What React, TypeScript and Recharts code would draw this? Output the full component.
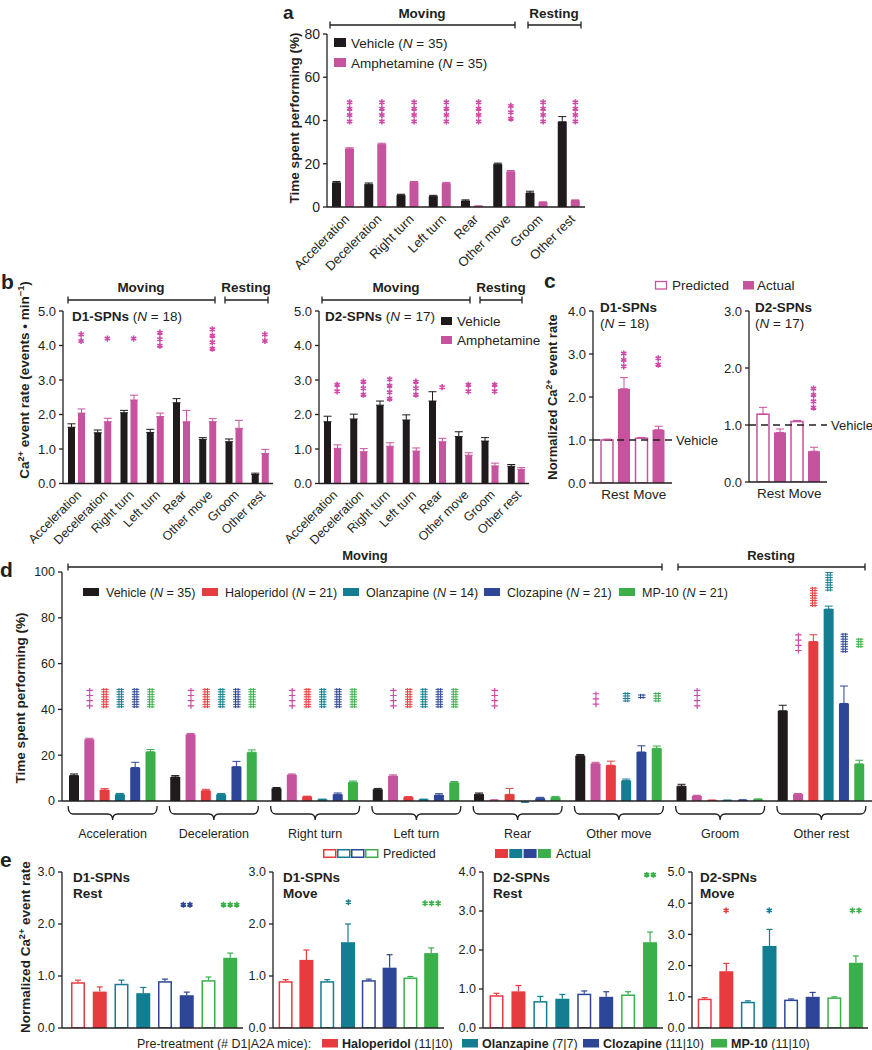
import React from 'react';
import { ComposedChart, Bar, XAxis, YAxis, ErrorBar, Scatter, ReferenceLine } from 'recharts';

const FONT = "'Liberation Sans', Arial, Helvetica, sans-serif";
const INK = '#231f20';
const VEH = '#1f1a1c';
const PINK = '#c6539d';
const PINK_SIG = '#d04aa7';
const RED = '#e63b3f';
const TEAL = '#137d91';
const BLUE = '#2d4698';
const GREEN = '#3aaf4a';

// ---------------- data ----------------
const behaviors = ['Acceleration', 'Deceleration', 'Right turn', 'Left turn', 'Rear', 'Other move', 'Groom', 'Other rest'];

// panel a (time spent performing, %)
const aVehicle = [11.2, 10.5, 5.5, 5.0, 2.8, 19.8, 6.5, 39.4];
const aVehicleErr = [0.6, 0.6, 0.4, 0.4, 0.5, 0.5, 0.8, 2.4];
const aAmph = [26.9, 29.0, 11.4, 10.9, 0.4, 16.3, 2.1, 3.0];
const aAmphErr = [0.5, 0.5, 0.4, 0.5, 0.1, 0.6, 0.3, 0.3];
const aStarCount = [4, 4, 4, 4, 4, 3, 4, 4];
const aStarTop = [50, 50, 50, 50, 50, 48.3, 50, 50];

// panel b, D1-SPNs (events / min)
const bD1Vehicle = [1.63, 1.47, 2.05, 1.48, 2.34, 1.28, 1.21, 0.26];
const bD1VehicleErr = [0.1, 0.08, 0.07, 0.09, 0.12, 0.05, 0.08, 0.04];
const bD1Amph = [2.04, 1.79, 2.42, 1.94, 1.79, 1.79, 1.6, 0.87];
const bD1AmphErr = [0.12, 0.1, 0.14, 0.1, 0.33, 0.09, 0.23, 0.12];
const bD1StarCount = [2, 1, 1, 3, 0, 4, 0, 2];
const bD1StarTop = [4.42, 4.3, 4.3, 4.47, null, 4.57, null, 4.42];

// panel b, D2-SPNs
const bD2Vehicle = [1.79, 1.87, 2.27, 1.84, 2.39, 1.36, 1.23, 0.5];
const bD2VehicleErr = [0.16, 0.14, 0.12, 0.15, 0.27, 0.14, 0.1, 0.05];
const bD2Amph = [1.02, 0.92, 1.08, 0.94, 1.21, 0.82, 0.51, 0.41];
const bD2AmphErr = [0.1, 0.09, 0.1, 0.09, 0.1, 0.07, 0.08, 0.05];
const bD2StarCount = [2, 3, 4, 3, 1, 2, 2, 0];
const bD2StarTop = [2.96, 3.05, 3.12, 3.05, 2.89, 2.96, 2.96, null];

// panel c (normalized event rate)
const cGroups = ['Rest', 'Move'];
const cD1Pred = [1.0, 1.04];
const cD1PredErr = [0.02, 0.02];
const cD1Actual = [2.19, 1.24];
const cD1ActualErr = [0.26, 0.08];
const cD1StarCount = [3, 2];
const cD1StarTop = [3.09, 2.98];
const cD2Pred = [1.19, 1.06];
const cD2PredErr = [0.12, 0.02];
const cD2Actual = [0.87, 0.54];
const cD2ActualErr = [0.06, 0.07];
const cD2StarCount = [0, 4];
const cD2StarTop = [null, 1.7];

// panel d (time spent performing, %)
const dVehicle = [11.2, 10.5, 5.5, 5.1, 3.0, 19.8, 6.5, 39.4];
const dVehicleErr = [0.6, 0.6, 0.4, 0.4, 0.5, 0.5, 0.8, 2.4];
const dAmph = [26.9, 29.0, 11.4, 10.9, 0.4, 16.3, 2.2, 3.0];
const dAmphErr = [0.5, 0.5, 0.4, 0.5, 0.1, 0.6, 0.3, 0.3];
const dHalo = [4.8, 4.5, 1.9, 1.7, 2.9, 15.6, 0.3, 69.6];
const dHaloErr = [0.6, 0.6, 0.2, 0.2, 2.6, 1.8, 0.1, 3.0];
const dOlan = [2.9, 2.9, 0.7, 0.7, -0.6, 8.9, 0.3, 83.8];
const dOlanErr = [0.4, 0.4, 0.1, 0.1, 0.3, 0.7, 0.1, 1.3];
const dCloz = [14.6, 15.0, 2.9, 2.6, 1.2, 21.4, 0.4, 42.6];
const dClozErr = [2.3, 2.3, 0.6, 0.6, 0.4, 2.7, 0.1, 7.6];
const dMp10 = [21.5, 21.3, 8.2, 8.0, 1.6, 23.0, 0.7, 16.2];
const dMp10Err = [1.0, 1.0, 0.5, 0.5, 0.4, 1.0, 0.2, 1.6];
// significance stacks: count of symbols and top value
const dAmphSigN = [4, 4, 4, 4, 4, 3, 4, 4];
const dAmphSigTop = [49.3, 49.3, 49.3, 49.3, 49.3, 47.8, 49.3, 73.5];
const dHaloSigN = [4, 4, 4, 4, 0, 0, 0, 4];
const dHaloSigTop = [49.3, 49.3, 49.3, 49.3, null, null, null, 93.5];
const dOlanSigN = [4, 4, 4, 4, 0, 2, 0, 4];
const dOlanSigTop = [49.3, 49.3, 49.3, 49.3, null, 47.5, null, 100.3];
const dClozSigN = [4, 4, 4, 4, 0, 1, 0, 4];
const dClozSigTop = [49.3, 49.3, 49.3, 49.3, null, 46.8, null, 73.4];
const dMp10SigN = [4, 4, 4, 4, 0, 2, 0, 2];
const dMp10SigTop = [49.3, 49.3, 49.3, 49.3, null, 47.5, null, 71.2];

// panel e (normalized event rate): predicted / actual for Haloperidol, Olanzapine, Clozapine, MP-10
const eBars = ['Halo pred', 'Halo act', 'Olan pred', 'Olan act', 'Cloz pred', 'Cloz act', 'MP10 pred', 'MP10 act'];
const eD1Rest = [0.88, 0.7, 0.85, 0.67, 0.9, 0.63, 0.92, 1.35];
const eD1RestErr = [0.04, 0.09, 0.07, 0.11, 0.04, 0.06, 0.06, 0.09];
const eD1RestStarN = [0, 0, 0, 0, 0, 2, 0, 3];
const eD1RestStarY = [null, null, null, null, null, 2.37, null, 2.37];
const eD1Move = [0.9, 1.31, 0.9, 1.65, 0.92, 1.16, 0.97, 1.44];
const eD1MoveErr = [0.03, 0.19, 0.03, 0.35, 0.02, 0.25, 0.02, 0.1];
const eD1MoveStarN = [0, 0, 0, 1, 0, 0, 0, 3];
const eD1MoveStarY = [null, null, null, 2.42, null, null, null, 2.4];
const eD2Rest = [0.84, 0.94, 0.69, 0.75, 0.88, 0.8, 0.86, 2.2];
const eD2RestErr = [0.05, 0.15, 0.12, 0.11, 0.07, 0.13, 0.07, 0.26];
const eD2RestStarN = [0, 0, 0, 0, 0, 0, 0, 2];
const eD2RestStarY = [null, null, null, null, null, null, null, 3.93];
const eD2Move = [0.94, 1.82, 0.84, 2.63, 0.91, 1.0, 0.98, 2.09];
const eD2MoveErr = [0.03, 0.25, 0.03, 0.53, 0.02, 0.14, 0.02, 0.22];
const eD2MoveStarN = [0, 1, 0, 1, 0, 0, 0, 2];
const eD2MoveStarY = [null, 3.77, null, 3.77, null, null, null, 3.77];

// styles for the e bars (colour, filled)
const eColors = [RED, RED, TEAL, TEAL, BLUE, BLUE, GREEN, GREEN];
const eFilled = [false, true, false, true, false, true, false, true];

// ---------------- helpers ----------------
function box(l: number, t: number, r: number, b: number, o: { yW?: number; xH?: number; mt?: number; mr?: number } = {}) {
  const yW = o.yW ?? 40, xH = o.xH ?? 30, mt = o.mt ?? 12, mr = o.mr ?? 4;
  return {
    style: { position: 'absolute' as const, left: l - yW, top: t - mt },
    width: r - l + yW + mr,
    height: b - t + mt + xH,
    margin: { top: mt, right: mr, bottom: 0, left: 0 },
    yW, xH,
  };
}

const axisStroke = { stroke: INK, strokeWidth: 1.3 };

function yProps(yW: number, domain: number[], ticks: number[], dec: number, fs: number) {
  return {
    type: 'number' as const,
    width: yW,
    domain,
    ticks,
    interval: 0 as const,
    allowDataOverflow: true,
    tickFormatter: (v: number) => v.toFixed(dec),
    tick: { fill: INK, fontSize: fs, fontFamily: FONT },
    tickSize: 4,
    tickMargin: 3,
    axisLine: axisStroke,
    tickLine: axisStroke,
  };
}

function xProps(xH: number) {
  return {
    dataKey: 'name',
    type: 'category' as const,
    height: xH,
    interval: 0 as const,
    axisLine: axisStroke,
    tickLine: false,
    tickSize: 0,
    tickMargin: 0,
  };
}

const RotTick = (p: any) => {
  const tx = p.x + p.dx0, ty = p.y + p.dy0;
  return (
    <text x={tx} y={ty} transform={`rotate(-45 ${tx} ${ty})`} textAnchor="end" fontSize={p.fs} fontFamily={FONT} fill={INK}>
      {p.payload.value}
    </text>
  );
};

const CenterTick = (p: any) => (
  <text x={p.x} y={p.y + p.dy0} textAnchor="middle" fontSize={p.fs} fontFamily={FONT} fill={INK}>
    {p.payload.value}
  </text>
);

const BraceTick = (p: any) => {
  const x = p.x, h = p.half, y0 = p.y + 5, yl = p.y + 13, yt = p.y + 19;
  const d = `M${x - h},${y0} Q${x - h},${yl} ${x - h + 5},${yl} L${x - 5},${yl} Q${x},${yl} ${x},${yt} Q${x},${yl} ${x + 5},${yl} L${x + h - 5},${yl} Q${x + h},${yl} ${x + h},${y0}`;
  return (
    <g>
      <path d={d} fill="none" stroke={INK} strokeWidth={1.3} />
      <text x={x} y={p.y + 37} textAnchor="middle" fontSize={12.5} fontFamily={FONT} fill={INK}>{p.payload.value}</text>
    </g>
  );
};

function Glyph({ kind, x, y, s, step, color }: { kind: string; x: number; y: number; s: number; step: number; color: string }) {
  if (kind === 'star') {
    const r = s / 2, a = r * 0.866, b = r * 0.5;
    return <path d={`M${x},${y - r}L${x},${y + r}M${x - a},${y - b}L${x + a},${y + b}M${x - a},${y + b}L${x + a},${y - b}`} stroke={color} strokeWidth={1.6} fill="none" />;
  }
  if (kind === 'dagger') {
    return <path d={`M${x},${y - step / 2}L${x},${y + step / 2}M${x - s / 2},${y - 0.4}L${x + s / 2},${y - 0.4}`} stroke={color} strokeWidth={1.2} fill="none" />;
  }
  const q = step / 4;
  return (
    <path
      d={`M${x - 1.3},${y - step / 2}L${x - 1.3},${y + step / 2}M${x + 1.3},${y - step / 2}L${x + 1.3},${y + step / 2}M${x - s / 2},${y - q}L${x + s / 2},${y - q}M${x - s / 2},${y + q}L${x + s / 2},${y + q}`}
      stroke={color}
      strokeWidth={1}
      fill="none"
    />
  );
}

function stackShape(o: { nKey: string; dx: number; color?: string; colorKey?: string; kind: string; size: number; step: number; dir?: string }) {
  return (p: any) => {
    const n = p?.payload?.[o.nKey];
    const cx = p?.cx, cy = p?.cy;
    if (!n || typeof cx !== 'number' || typeof cy !== 'number' || !isFinite(cx) || !isFinite(cy)) return <g />;
    const color = o.colorKey ? p.payload[o.colorKey] : (o.color as string);
    const out: any[] = [];
    for (let i = 0; i < n; i++) {
      let x = cx + o.dx, y = cy;
      if (o.dir === 'h') x = cx + o.dx + (i - (n - 1) / 2) * o.step;
      else y = cy + (o.kind === 'star' ? o.size / 2 + 0.3 : o.step / 2) + i * o.step;
      out.push(<Glyph key={i} kind={o.kind} x={x} y={y} s={o.size} step={o.step} color={color} />);
    }
    return <g>{out}</g>;
  };
}

const EBarShape = (p: any) => {
  const { x, y, width, height, payload } = p;
  if (!isFinite(x) || !isFinite(y) || !height) return <g />;
  const c = payload.color;
  const ppu = height / payload.v;
  const ey = y - payload.err * ppu;
  const cx = x + width / 2;
  return (
    <g>
      {payload.filled ? (
        <rect x={x} y={y} width={width} height={height} fill={c} />
      ) : (
        <rect x={x + 0.75} y={y + 0.75} width={width - 1.5} height={height - 0.75} fill="#fff" stroke={c} strokeWidth={1.5} />
      )}
      <line x1={cx} x2={cx} y1={y} y2={ey} stroke={c} strokeWidth={1.2} />
      <line x1={cx - 3} x2={cx + 3} y1={ey} y2={ey} stroke={c} strokeWidth={1.2} />
    </g>
  );
};

// ---------------- panels ----------------
function PanelA() {
  const f = box(327, 34, 585, 207, { xH: 80, mr: 4 });
  const rows = behaviors.map((name, i) => ({
    name, veh: aVehicle[i], vehErr: [0, aVehicleErr[i]], amph: aAmph[i], amphErr: [0, aAmphErr[i]], sTop: aStarTop[i], sN: aStarCount[i],
  }));
  return (
    <div style={f.style}>
      <ComposedChart width={f.width} height={f.height} margin={f.margin} data={rows} barSize={9} barGap={4}>
        <XAxis {...xProps(f.xH)} tick={<RotTick fs={13} dx0={7} dy0={13} />} />
        <YAxis {...yProps(f.yW, [0, 80], [0, 20, 40, 60, 80], 0, 14)} />
        <Bar dataKey="veh" fill={VEH} isAnimationActive={false}>
          <ErrorBar dataKey="vehErr" width={4} stroke={VEH} strokeWidth={1} />
        </Bar>
        <Bar dataKey="amph" fill={PINK} isAnimationActive={false}>
          <ErrorBar dataKey="amphErr" width={4} stroke={PINK} strokeWidth={1} />
        </Bar>
        <Scatter dataKey="sTop" isAnimationActive={false} shape={stackShape({ nKey: 'sN', dx: 6.5, color: PINK_SIG, kind: 'star', size: 6.2, step: 6.4 })} />
      </ComposedChart>
    </div>
  );
}

function PanelB({ left, right, veh, vehErr, amph, amphErr, sN, sTop }: any) {
  const f = box(left, 311, right, 483.5, { xH: 75, mr: 3 });
  const rows = behaviors.map((name, i) => ({
    name, veh: veh[i], vehErr: [0, vehErr[i]], amph: amph[i], amphErr: [0, amphErr[i]], sTop: sTop[i], sN: sN[i],
  }));
  return (
    <div style={f.style}>
      <ComposedChart width={f.width} height={f.height} margin={f.margin} data={rows} barSize={7} barGap={3}>
        <XAxis {...xProps(f.xH)} tick={<RotTick fs={12.5} dx0={6} dy0={12} />} />
        <YAxis {...yProps(f.yW, [0, 5], [0, 1, 2, 3, 4, 5], 1, 13)} />
        <Bar dataKey="veh" fill={VEH} isAnimationActive={false}>
          <ErrorBar dataKey="vehErr" width={4} stroke={VEH} strokeWidth={1} />
        </Bar>
        <Bar dataKey="amph" fill={PINK} isAnimationActive={false}>
          <ErrorBar dataKey="amphErr" width={4} stroke={PINK} strokeWidth={1} />
        </Bar>
        <Scatter dataKey="sTop" isAnimationActive={false} shape={stackShape({ nKey: 'sN', dx: 5, color: PINK_SIG, kind: 'star', size: 6.2, step: 6.5 })} />
      </ComposedChart>
    </div>
  );
}

function PanelC({ left, right, bottom, domain, ticks, pred, predErr, act, actErr, sN, sTop, mr }: any) {
  const f = box(left, 311, right, bottom, { xH: 25, mr });
  const rows = cGroups.map((name, i) => ({
    name, pred: pred[i], predErr: [0, predErr[i]], act: act[i], actErr: [0, actErr[i]], sTop: sTop[i], sN: sN[i],
  }));
  return (
    <div style={f.style}>
      <ComposedChart width={f.width} height={f.height} margin={f.margin} data={rows} barSize={12} barGap={5}>
        <XAxis {...xProps(f.xH)} padding={{ left: 5, right: 5 }} tick={<CenterTick fs={13.5} dy0={16} />} />
        <YAxis {...yProps(f.yW, domain, ticks, 1, 13)} />
        <ReferenceLine y={1} stroke={INK} strokeWidth={1.6} strokeDasharray="7 5" label={{ value: 'Vehicle', position: 'right', offset: 4, fill: INK, fontSize: 13, fontFamily: FONT }} />
        <Bar dataKey="pred" fill="#fff" stroke={PINK} strokeWidth={1.5} isAnimationActive={false}>
          <ErrorBar dataKey="predErr" width={4} stroke={PINK} strokeWidth={1} />
        </Bar>
        <Bar dataKey="act" fill={PINK} isAnimationActive={false}>
          <ErrorBar dataKey="actErr" width={4} stroke={PINK} strokeWidth={1} />
        </Bar>
        <Scatter dataKey="sTop" isAnimationActive={false} shape={stackShape({ nKey: 'sN', dx: 8.5, color: PINK_SIG, kind: 'star', size: 6.2, step: 6.4 })} />
      </ComposedChart>
    </div>
  );
}

function PanelD() {
  const f = box(62, 572, 872, 801, { xH: 50, mr: 0 });
  const rows = behaviors.map((name, i) => ({
    name,
    veh: dVehicle[i], vehErr: [0, dVehicleErr[i]],
    amph: dAmph[i], amphErr: [0, dAmphErr[i]],
    halo: dHalo[i], haloErr: [0, dHaloErr[i]],
    olan: dOlan[i], olanErr: [0, dOlanErr[i]],
    cloz: dCloz[i], clozErr: [0, dClozErr[i]],
    mp: dMp10[i], mpErr: [0, dMp10Err[i]],
    amphT: dAmphSigTop[i], amphN: dAmphSigN[i],
    haloT: dHaloSigTop[i], haloN: dHaloSigN[i],
    olanT: dOlanSigTop[i], olanN: dOlanSigN[i],
    clozT: dClozSigTop[i], clozN: dClozSigN[i],
    mpT: dMp10SigTop[i], mpN: dMp10SigN[i],
  }));
  const slot = 15.3;
  const off = (i: number) => (i - 2.5) * slot;
  const series = [
    { k: 'veh', c: VEH },
    { k: 'amph', c: PINK },
    { k: 'halo', c: RED },
    { k: 'olan', c: TEAL },
    { k: 'cloz', c: BLUE },
    { k: 'mp', c: GREEN },
  ];
  return (
    <div style={f.style}>
      <ComposedChart width={f.width} height={f.height} margin={f.margin} data={rows} barSize={10} barGap={5.3}>
        <XAxis {...xProps(f.xH)} tick={<BraceTick half={44.5} />} />
        <YAxis {...yProps(f.yW, [0, 100], [0, 20, 40, 60, 80, 100], 0, 12.5)} />
        {series.map((s) => (
          <Bar key={s.k} dataKey={s.k} fill={s.c} isAnimationActive={false}>
            <ErrorBar dataKey={s.k + 'Err'} width={4} stroke={s.c} strokeWidth={1} />
          </Bar>
        ))}
        <Scatter dataKey="amphT" isAnimationActive={false} shape={stackShape({ nKey: 'amphN', dx: off(1), color: PINK_SIG, kind: 'dagger', size: 6.5, step: 5.2 })} />
        <Scatter dataKey="haloT" isAnimationActive={false} shape={stackShape({ nKey: 'haloN', dx: off(2), color: RED, kind: 'hash', size: 7.5, step: 5 })} />
        <Scatter dataKey="olanT" isAnimationActive={false} shape={stackShape({ nKey: 'olanN', dx: off(3), color: TEAL, kind: 'hash', size: 7.5, step: 5 })} />
        <Scatter dataKey="clozT" isAnimationActive={false} shape={stackShape({ nKey: 'clozN', dx: off(4), color: BLUE, kind: 'hash', size: 7.5, step: 5 })} />
        <Scatter dataKey="mpT" isAnimationActive={false} shape={stackShape({ nKey: 'mpN', dx: off(5), color: GREEN, kind: 'hash', size: 7.5, step: 5 })} />
      </ComposedChart>
    </div>
  );
}

function PanelE({ left, right, padL, padR, domain, ticks, vals, errs, sN, sY }: any) {
  const f = box(left, 872, right, 1028, { xH: 10, mr: 2 });
  const rows = eBars.map((name, i) => ({
    name, v: vals[i], err: errs[i], color: eColors[i], filled: eFilled[i], sy: sY[i], sN: sN[i],
  }));
  return (
    <div style={f.style}>
      <ComposedChart width={f.width} height={f.height} margin={f.margin} data={rows} barSize={14}>
        <XAxis {...xProps(f.xH)} padding={{ left: padL, right: padR }} tick={false} />
        <YAxis {...yProps(f.yW, domain, ticks, 1, 12.5)} />
        <Bar dataKey="v" isAnimationActive={false} shape={EBarShape} />
        <Scatter dataKey="sy" isAnimationActive={false} shape={stackShape({ nKey: 'sN', dx: 0, colorKey: 'color', kind: 'star', size: 6, step: 6.6, dir: 'h' })} />
      </ComposedChart>
    </div>
  );
}

// ---------------- text overlay ----------------
const N = () => <tspan fontStyle="italic">N</tspan>;
const Sup = ({ t }: { t: string }) => <tspan baselineShift="super" fontSize="68%">{t}</tspan>;

function Bracket({ x1, x2, y }: { x1: number; x2: number; y: number }) {
  return <path d={`M${x1},${y - 3.5}V${y + 3.5}M${x1},${y}H${x2}M${x2},${y - 3.5}V${y + 3.5}`} stroke={INK} strokeWidth={1.3} fill="none" />;
}

function Overlay() {
  const t = { fill: INK, fontFamily: FONT } as any;
  const dLegend = [
    { x: 83, label: 'Vehicle', n: 35, c: VEH },
    { x: 202, label: 'Haloperidol', n: 21, c: RED },
    { x: 343, label: 'Olanzapine', n: 14, c: TEAL },
    { x: 484, label: 'Clozapine', n: 21, c: BLUE },
    { x: 619, label: 'MP-10', n: 21, c: GREEN },
  ];
  const eTitles = [
    { x: 73, a: 'D1-SPNs', b: 'Rest' },
    { x: 283, a: 'D1-SPNs', b: 'Move' },
    { x: 493, a: 'D2-SPNs', b: 'Rest' },
    { x: 700, a: 'D2-SPNs', b: 'Move' },
  ];
  const eLegend = [
    { x: 322, label: 'Haloperidol', n: '(11|10)', c: RED },
    { x: 462, label: 'Olanzapine', n: '(7|7)', c: TEAL },
    { x: 583, label: 'Clozapine', n: '(11|10)', c: BLUE },
    { x: 711, label: 'MP-10', n: '(11|10)', c: GREEN },
  ];
  const four = [RED, TEAL, BLUE, GREEN];
  return (
    <svg width={872} height={1050} style={{ position: 'absolute', left: 0, top: 0, pointerEvents: 'none' }}>
      {/* panel letters */}
      <text x={283} y={19} fontSize={19} fontWeight={700} {...t}>a</text>
      <text x={1} y={289} fontSize={21} fontWeight={700} {...t}>b</text>
      <text x={544} y={288} fontSize={21} fontWeight={700} {...t}>c</text>
      <text x={0} y={577} fontSize={21} fontWeight={700} {...t}>d</text>
      <text x={0} y={867} fontSize={21} fontWeight={700} {...t}>e</text>

      {/* panel a */}
      <text x={422} y={18} fontSize={13.5} fontWeight={700} textAnchor="middle" {...t}>Moving</text>
      <text x={554} y={18} fontSize={13.5} fontWeight={700} textAnchor="middle" {...t}>Resting</text>
      <Bracket x1={330} x2={515} y={25} />
      <Bracket x1={528} x2={581} y={25} />
      <text transform="translate(299,118) rotate(-90)" fontSize={13.5} fontWeight={700} textAnchor="middle" {...t}>Time spent performing (%)</text>
      <rect x={334} y={38} width={12} height={9} fill={VEH} />
      <text x={351} y={47.5} fontSize={13.5} {...t}>Vehicle (<N /> = 35)</text>
      <rect x={334} y={58} width={12} height={9} fill={PINK} />
      <text x={351} y={67.5} fontSize={13.5} {...t}>Amphetamine (<N /> = 35)</text>

      {/* panel b */}
      <text x={141} y={292} fontSize={13.5} fontWeight={700} textAnchor="middle" {...t}>Moving</text>
      <text x={246} y={292} fontSize={13.5} fontWeight={700} textAnchor="middle" {...t}>Resting</text>
      <Bracket x1={68} x2={215} y={300} />
      <Bracket x1={225} x2={268} y={300} />
      <text x={396} y={292} fontSize={13.5} fontWeight={700} textAnchor="middle" {...t}>Moving</text>
      <text x={501} y={292} fontSize={13.5} fontWeight={700} textAnchor="middle" {...t}>Resting</text>
      <Bracket x1={322} x2={470} y={300} />
      <Bracket x1={480} x2={522} y={300} />
      <text transform="translate(29,380) rotate(-90)" fontSize={13.5} fontWeight={700} textAnchor="middle" {...t}>
        Ca<Sup t="2+" /> event rate (events • min<Sup t="−1" />)
      </text>
      <text x={72} y={321} fontSize={13.5} {...t}><tspan fontWeight={700}>D1-SPNs</tspan> (<N /> = 18)</text>
      <text x={325} y={321} fontSize={13.5} {...t}><tspan fontWeight={700}>D2-SPNs</tspan> (<N /> = 17)</text>
      <rect x={441} y={317} width={11} height={8} fill={VEH} />
      <text x={457} y={326} fontSize={13.5} {...t}>Vehicle</text>
      <rect x={441} y={336} width={11} height={8} fill={PINK} />
      <text x={457} y={345} fontSize={13.5} {...t}>Amphetamine</text>

      {/* panel c */}
      <rect x={655.5} y={281.5} width={11} height={7.5} fill="#fff" stroke={PINK} strokeWidth={1.3} />
      <text x={672} y={290} fontSize={13.5} {...t}>Predicted</text>
      <rect x={743} y={281} width={11} height={8.5} fill={PINK} />
      <text x={757} y={290} fontSize={13.5} {...t}>Actual</text>
      <text x={600} y={312} fontSize={13.5} fontWeight={700} {...t}>D1-SPNs</text>
      <text x={600} y={328} fontSize={13.5} {...t}>(<N /> = 18)</text>
      <text x={755} y={312} fontSize={13.5} fontWeight={700} {...t}>D2-SPNs</text>
      <text x={755} y={328} fontSize={13.5} {...t}>(<N /> = 17)</text>
      <text transform="translate(557,397) rotate(-90)" fontSize={13} fontWeight={700} textAnchor="middle" {...t}>
        Normalized Ca<Sup t="2+" /> event rate
      </text>

      {/* panel d */}
      <text x={365} y={560} fontSize={13} fontWeight={700} textAnchor="middle" {...t}>Moving</text>
      <text x={771} y={560} fontSize={13} fontWeight={700} textAnchor="middle" {...t}>Resting</text>
      <Bracket x1={68} x2={662} y={567} />
      <Bracket x1={678} x2={865} y={567} />
      <text transform="translate(25,698) rotate(-90)" fontSize={13.5} fontWeight={700} textAnchor="middle" {...t}>Time spent performing (%)</text>
      {dLegend.map((d) => (
        <g key={d.label}>
          <rect x={d.x} y={588} width={16} height={8} fill={d.c} />
          <text x={d.x + 23} y={597} fontSize={12.5} {...t}>{d.label} (<N /> = {d.n})</text>
        </g>
      ))}
      {four.map((c, i) => (
        <rect key={'p' + i} x={323.75 + i * 14} y={849.75} width={12} height={7.5} fill="#fff" stroke={c} strokeWidth={1.5} />
      ))}
      <text x={383} y={858} fontSize={12.5} {...t}>Predicted</text>
      {four.map((c, i) => (
        <rect key={'a' + i} x={495 + i * 14.3} y={849} width={13} height={9} fill={c} />
      ))}
      <text x={556} y={858} fontSize={12.5} {...t}>Actual</text>

      {/* panel e */}
      <text transform="translate(30,947) rotate(-90)" fontSize={13.5} fontWeight={700} textAnchor="middle" {...t}>
        Normalized Ca<Sup t="2+" /> event rate
      </text>
      {eTitles.map((e) => (
        <g key={e.x}>
          <text x={e.x} y={882} fontSize={13.5} fontWeight={700} {...t}>{e.a}</text>
          <text x={e.x} y={898} fontSize={13.5} fontWeight={700} {...t}>{e.b}</text>
        </g>
      ))}
      <text x={137} y={1048} fontSize={12.5} {...t}>Pre-treatment (# D1|A2A mice):</text>
      {eLegend.map((e) => (
        <g key={e.label}>
          <rect x={e.x} y={1039} width={16} height={8.5} fill={e.c} />
          <text x={e.x + 20} y={1048} fontSize={12.5} {...t}><tspan fontWeight={700}>{e.label}</tspan> {e.n}</text>
        </g>
      ))}
    </svg>
  );
}

export default function App() {
  return (
    <div style={{ position: 'absolute', left: 0, top: 0, width: 872, height: 1050, background: '#fff', overflow: 'hidden', fontFamily: FONT }}>
      <PanelA />
      <PanelB left={63} right={273} veh={bD1Vehicle} vehErr={bD1VehicleErr} amph={bD1Amph} amphErr={bD1AmphErr} sN={bD1StarCount} sTop={bD1StarTop} />
      <PanelB left={319} right={529} veh={bD2Vehicle} vehErr={bD2VehicleErr} amph={bD2Amph} amphErr={bD2AmphErr} sN={bD2StarCount} sTop={bD2StarTop} />
      <PanelC left={593} right={672} bottom={483} mr={50} domain={[0, 4]} ticks={[0, 1, 2, 3, 4]} pred={cD1Pred} predErr={cD1PredErr} act={cD1Actual} actErr={cD1ActualErr} sN={cD1StarCount} sTop={cD1StarTop} />
      <PanelC left={749} right={827} bottom={482} mr={45} domain={[0, 3]} ticks={[0, 1, 2, 3]} pred={cD2Pred} predErr={cD2PredErr} act={cD2Actual} actErr={cD2ActualErr} sN={cD2StarCount} sTop={cD2StarTop} />
      <PanelD />
      <PanelE left={62} right={243} padL={5} padR={2} domain={[0, 3]} ticks={[0, 1, 2, 3]} vals={eD1Rest} errs={eD1RestErr} sN={eD1RestStarN} sY={eD1RestStarY} />
      <PanelE left={273} right={444} padL={2.6} padR={2} domain={[0, 3]} ticks={[0, 1, 2, 3]} vals={eD1Move} errs={eD1MoveErr} sN={eD1MoveStarN} sY={eD1MoveStarY} />
      <PanelE left={483} right={663} padL={2.5} padR={2} domain={[0, 4]} ticks={[0, 1, 2, 3, 4]} vals={eD2Rest} errs={eD2RestErr} sN={eD2RestStarN} sY={eD2RestStarY} />
      <PanelE left={692} right={868} padL={1.7} padR={1.5} domain={[0, 5]} ticks={[0, 1, 2, 3, 4, 5]} vals={eD2Move} errs={eD2MoveErr} sN={eD2MoveStarN} sY={eD2MoveStarY} />
      <Overlay />
    </div>
  );
}
